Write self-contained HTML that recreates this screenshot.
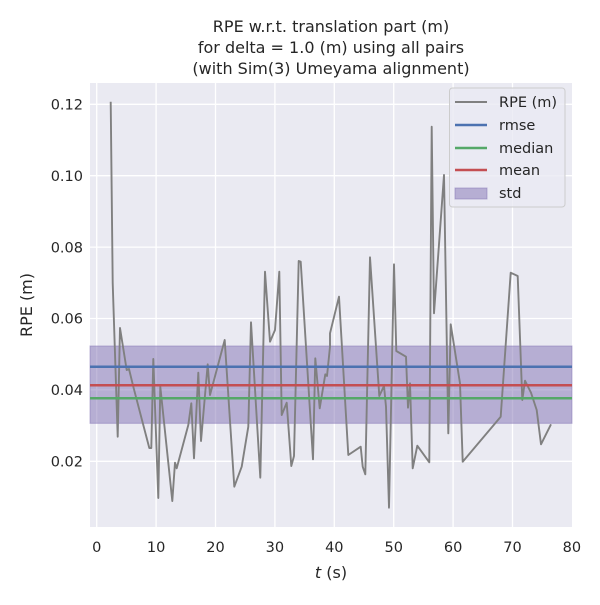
<!DOCTYPE html>
<html><head><meta charset="utf-8"><style>
body{margin:0;background:#fff}
text{font-family:"DejaVu Sans","Liberation Sans",sans-serif;fill:#262626}
</style></head><body>
<svg width="600" height="600" viewBox="0 0 600 600" xmlns="http://www.w3.org/2000/svg">
<rect x="0" y="0" width="600" height="600" fill="#fff"/>
<rect x="90" y="83" width="482" height="444" fill="#eaeaf2"/>
<g stroke="#fff" stroke-width="1.3">
<line x1="96.7" y1="83" x2="96.7" y2="527"/><line x1="156.1" y1="83" x2="156.1" y2="527"/>
<line x1="215.5" y1="83" x2="215.5" y2="527"/><line x1="274.9" y1="83" x2="274.9" y2="527"/>
<line x1="334.3" y1="83" x2="334.3" y2="527"/><line x1="393.7" y1="83" x2="393.7" y2="527"/>
<line x1="453.1" y1="83" x2="453.1" y2="527"/><line x1="512.5" y1="83" x2="512.5" y2="527"/>
<line x1="90" y1="104.3" x2="572" y2="104.3"/><line x1="90" y1="175.7" x2="572" y2="175.7"/>
<line x1="90" y1="247.1" x2="572" y2="247.1"/><line x1="90" y1="318.5" x2="572" y2="318.5"/>
<line x1="90" y1="389.9" x2="572" y2="389.9"/><line x1="90" y1="461.3" x2="572" y2="461.3"/>
</g>
<rect x="90" y="346" width="482" height="77.3" fill="#8172b3" fill-opacity="0.5" stroke="#8172b3" stroke-opacity="0.5"/>
<polyline fill="none" stroke="#808080" stroke-width="1.9" stroke-linejoin="round" points="110.7,101.7 112.7,283 117.7,436.7 120,328 126.7,370 129,369 133.3,386.7 149.3,448 151.3,448 153.3,359 158.3,498 160.3,386.7 172.3,501 175,462.7 176.7,468.3 188.3,425 191.3,403.3 194,458.3 198.3,372.7 201,441 207.7,364.3 210,395 224.7,340 234.3,486.7 241.7,466.7 248.3,426.7 251,322.3 260.3,477.7 265,271.7 270,341.7 275,330 279.3,271.7 281.7,415 286.7,402.7 291.3,466 294,456 298.7,261 300.7,261.7 313,459.3 315.3,358.3 319.7,408.3 325.3,374.3 327,376 330,346.7 330,333.3 339,296.7 348.3,455 360.7,446.7 362.7,466.7 365.3,474.3 370,257.3 379.3,396 384,386 386,406.7 389,507.7 394,264.3 396.3,351 406,356.7 408,407.7 410,383.3 412.7,468.3 417.3,445.7 429.3,462.3 431.7,126.7 434,313.3 444,175 448.3,433.3 450.7,324.3 460,383.3 462.7,461.7 500.7,416.7 510.7,272.7 517.7,276 522.3,400 525,380.7 531,392.7 536.7,410 541,444.3 551,424.3"/>
<line x1="90" y1="366.7" x2="572" y2="366.7" stroke="#4c72b0" stroke-width="2.5"/>
<line x1="90" y1="385.3" x2="572" y2="385.3" stroke="#c44e52" stroke-width="2.5"/>
<line x1="90" y1="398.3" x2="572" y2="398.3" stroke="#55a868" stroke-width="2.5"/>
<g>
<rect x="449.5" y="88" width="115.5" height="119" rx="3" fill="#eaeaf2" fill-opacity="0.8" stroke="#cccccc"/>
<line x1="455" y1="102" x2="487" y2="102" stroke="#808080" stroke-width="2"/>
<line x1="455" y1="125" x2="487" y2="125" stroke="#4c72b0" stroke-width="2.5"/>
<line x1="455" y1="148" x2="487" y2="148" stroke="#55a868" stroke-width="2.5"/>
<line x1="455" y1="170" x2="487" y2="170" stroke="#c44e52" stroke-width="2.5"/>
<rect x="455" y="188" width="32" height="11" fill="#8172b3" fill-opacity="0.5" stroke="#8172b3" stroke-opacity="0.5"/>
<g font-size="14.5"><text x="499" y="107">RPE (m)</text><text x="499" y="130">rmse</text><text x="499" y="153">median</text><text x="499" y="175">mean</text><text x="499" y="198">std</text></g>
</g>
<g font-size="14.5" text-anchor="middle">
<text x="96.7" y="552">0</text><text x="156.1" y="552">10</text><text x="215.5" y="552">20</text><text x="274.9" y="552">30</text>
<text x="334.3" y="552">40</text><text x="393.7" y="552">50</text><text x="453.1" y="552">60</text><text x="512.5" y="552">70</text><text x="571.9" y="552">80</text>
</g>
<g font-size="14.5" text-anchor="end">
<text x="83" y="109.5">0.12</text><text x="83" y="180.9">0.10</text><text x="83" y="252.3">0.08</text>
<text x="83" y="323.7">0.06</text><text x="83" y="395.1">0.04</text><text x="83" y="466.5">0.02</text>
</g>
<text x="331" y="578" font-size="16" text-anchor="middle"><tspan font-style="italic">t</tspan> (s)</text>
<text transform="translate(32,305) rotate(-90)" font-size="16" text-anchor="middle">RPE (m)</text>
<g font-size="16" text-anchor="middle">
<text x="331" y="32">RPE w.r.t. translation part (m)</text>
<text x="331" y="53">for delta = 1.0 (m) using all pairs</text>
<text x="331" y="74">(with Sim(3) Umeyama alignment)</text>
</g>
</svg>
</body></html>
